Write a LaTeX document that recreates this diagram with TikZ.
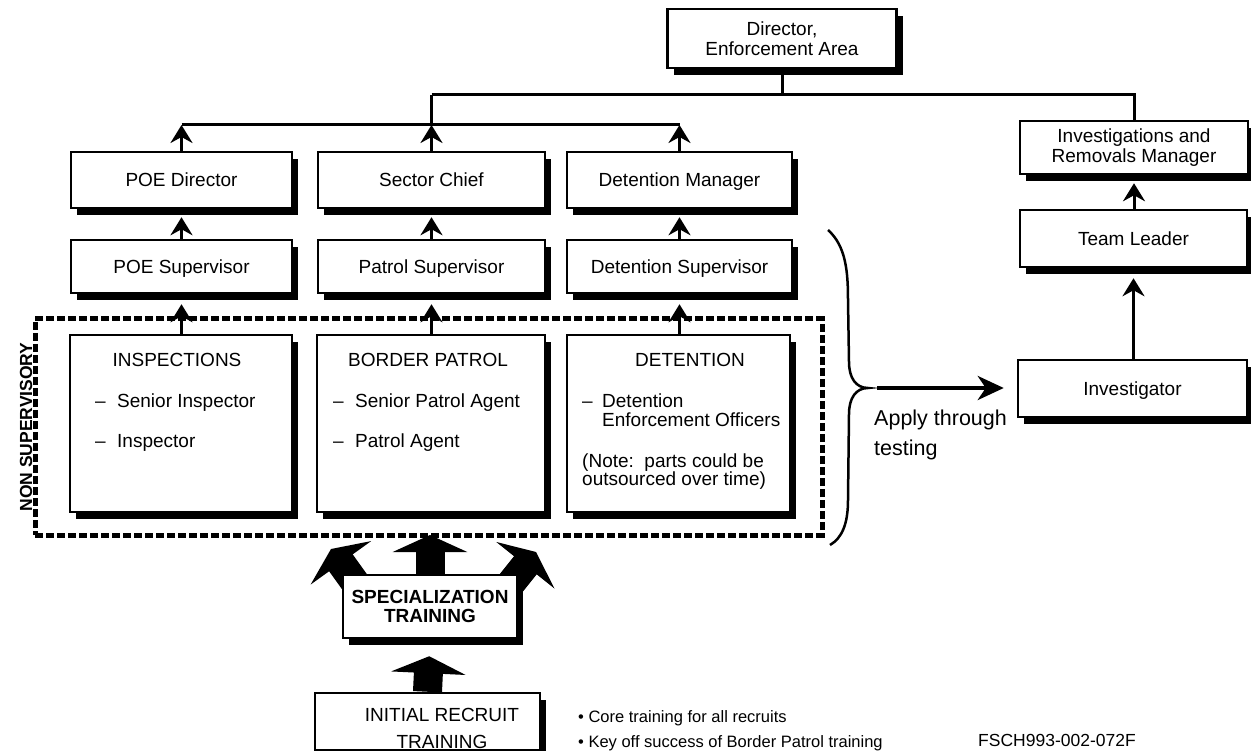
\documentclass[tikz,border=0pt]{standalone}
\usepackage{fontspec}
\setmainfont{Liberation Sans}
\usetikzlibrary{arrows.meta,shadows,backgrounds}

\begin{document}
\begin{tikzpicture}[x=1pt,y=-1pt,
  box/.style={draw, line width=2.5pt, fill=white, inner sep=0pt, align=center,
    font=\fontsize{19}{20}\selectfont,
    general shadow={fill=black, shadow xshift=6pt, shadow yshift=-7pt}},
  oneline/.style={text height=13.6pt, text depth=0pt},
  wire/.style={line width=3pt},
  conn/.style={line width=3pt, -{Stealth[length=18pt,width=22pt,inset=6pt]}},
  toBox/.style={conn, shorten >=8pt},
  blk/.style={line width=29pt, -{Triangle[length=17pt,width=74pt]}},
  title/.style={inner sep=0pt, font=\fontsize{19}{20}\selectfont},
  item/.style={anchor=base west, inner sep=0pt, font=\fontsize{19}{20}\selectfont},
  note/.style={anchor=base west, inner sep=0pt, font=\fontsize{16.5}{20}\selectfont}]

\useasboundingbox (0,0) rectangle (1251,751);

% top of the hierarchy
\node[box, minimum width=229pt, minimum height=59pt] (dir) at (782,38.5) {Director,\\Enforcement Area};

% managers
\node[box, oneline, minimum width=221pt, minimum height=56pt] (poed) at (181.5,180) {POE Director};
\node[box, oneline, minimum width=227pt, minimum height=56pt] (chief) at (431.5,180) {Sector Chief};
\node[box, oneline, minimum width=225pt, minimum height=56pt] (detm) at (679.5,180) {Detention Manager};

% supervisors
\node[box, oneline, minimum width=221pt, minimum height=53pt] (poes) at (181.5,266.5) {POE Supervisor};
\node[box, oneline, minimum width=227pt, minimum height=53pt] (patrs) at (431.5,266.5) {Patrol Supervisor};
\node[box, oneline, minimum width=225pt, minimum height=53pt] (dets) at (679.5,266.5) {Detention Supervisor};

% non supervisory frame
\node[draw, line width=5pt, dash pattern=on 8pt off 3pt, inner sep=0pt,
      minimum width=787pt, minimum height=216pt] (nonsup) at (428.5,427) {};
\node[inner sep=0pt, rotate=90, font=\bfseries\fontsize{17.5}{20}\selectfont] (nslabel) at (26,427) {NON SUPERVISORY};

% non supervisory groups
\node[box, minimum width=222pt, minimum height=177pt] (insp) at (181,423.5) {};
\node[box, minimum width=228pt, minimum height=177pt] (bp) at (431,423.5) {};
\node[box, minimum width=223pt, minimum height=177pt] (det) at (678.5,423.5) {};

\node[title] (inspT) at (177,360) {INSPECTIONS};
\node[item] (insp1) at (95,407) {\makebox[22pt][l]{–}Senior Inspector};
\node[item] (insp2) at (95,447) {\makebox[22pt][l]{–}Inspector};

\node[title] (bpT) at (428,360) {BORDER PATROL};
\node[item] (bp1) at (333,407) {\makebox[22pt][l]{–}Senior Patrol Agent};
\node[item] (bp2) at (333,447) {\makebox[22pt][l]{–}Patrol Agent};

\node[title] (detT) at (690,360) {DETENTION};
\node[item] (det1) at (582,407) {\makebox[20pt][l]{–}Detention};
\node[item] (det2) at (602,427) {Enforcement Officers};
\node[item] (det3) at (582,467) {(Note:\ \ parts could be};
\node[item] (det4) at (582,485) {outsourced over time)};

% investigations branch
\node[box, minimum width=228pt, minimum height=53pt] (irm) at (1134,147.5) {Investigations and\\Removals Manager};
\node[box, oneline, minimum width=227pt, minimum height=57pt] (tl) at (1133.5,238.5) {Team Leader};
\node[box, oneline, minimum width=229pt, minimum height=57pt] (inv) at (1132.5,388.5) {Investigator};

% training
\node[box, minimum width=174pt, minimum height=63pt, font=\bfseries\fontsize{19}{19.5}\selectfont] (spec) at (430,606.5) {SPECIALIZATION\\TRAINING};
\node[box, minimum width=225pt, minimum height=57pt] (init) at (427.5,721.5) {};
\node[title, align=center, font=\fontsize{19}{27}\selectfont] (initT) at (442,728.5) {INITIAL RECRUIT\\TRAINING};

% reporting lines
\coordinate (busT) at (431.5,95);
\coordinate (busM) at (431.5,125);
\draw[wire] (dir.south) -- (dir.south |- busT);
\draw[wire] (busT) -- (busT -| irm.north) -- (irm.north);
\draw[wire] (busT) -- (busM);
\draw[wire] (busM -| poed.north) -- (busM -| detm.north);
\draw[conn] (poed.north) -- (poed.north |- busM);
\draw[conn] (chief.north) -- (busM);
\draw[conn] (detm.north) -- (detm.north |- busM);

\draw[toBox] (poes.north) -- (poed.south);
\draw[toBox] (patrs.north) -- (chief.south);
\draw[toBox] (dets.north) -- (detm.south);

\draw[toBox, shorten >=10pt] (insp.north -| poes.south) -- (poes.south);
\draw[toBox, shorten >=10pt] (bp.north -| patrs.south) -- (patrs.south);
\draw[toBox, shorten >=10pt] (det.north -| dets.south) -- (dets.south);

\draw[toBox] (tl.north -| irm.south) -- (irm.south);
\draw[toBox, shorten >=10pt] (inv.north -| tl.south) -- (tl.south);

% brace gathering the three career paths
\draw[line width=2.5pt] (828,230) .. controls (846,246) and (848,272) .. (848,300)
  -- (849,362) .. controls (849,378) and (856,388) .. (868,388) coordinate (brtip)
  .. controls (856,388) and (849,398) .. (849,414)
  -- (848,500) .. controls (848,524) and (842,538) .. (830,545);
\draw[line width=4pt, -{Stealth[length=26pt,width=24pt,inset=8pt]}, shorten <=9pt, shorten >=13pt]
  (brtip) -- (inv.west |- brtip);
\node[anchor=base west, inner sep=0pt, font=\fontsize{21.5}{24}\selectfont] (apply1) at (874,425) {Apply through};
\node[anchor=base west, inner sep=0pt, font=\fontsize{21.5}{24}\selectfont] (apply2) at (874,455) {testing};

% training flow arrows (behind the boxes)
\coordinate (fromL) at (364,595);
\coordinate (upL) at (331,549);
\coordinate (upM) at (430,535);
\coordinate (fromR) at (500,597);
\coordinate (upR) at (536,552);
\begin{scope}[on background layer]
  \draw[blk] (fromL) -- (upL);
  \draw[blk] (spec.north) -- (upM);
  \draw[blk] (fromR) -- (upR);
  \draw[blk, shorten >=17pt] (init.north) -- (spec.south);
\end{scope}

% notes
\node[note] (core) at (578,722) {• Core training for all recruits};
\node[note] (keyoff) at (578,747) {• Key off success of Border Patrol training};
\node[note, font=\fontsize{17.5}{20}\selectfont] (code) at (978,746) {FSCH993-002-072F};

\end{tikzpicture}
\end{document}
